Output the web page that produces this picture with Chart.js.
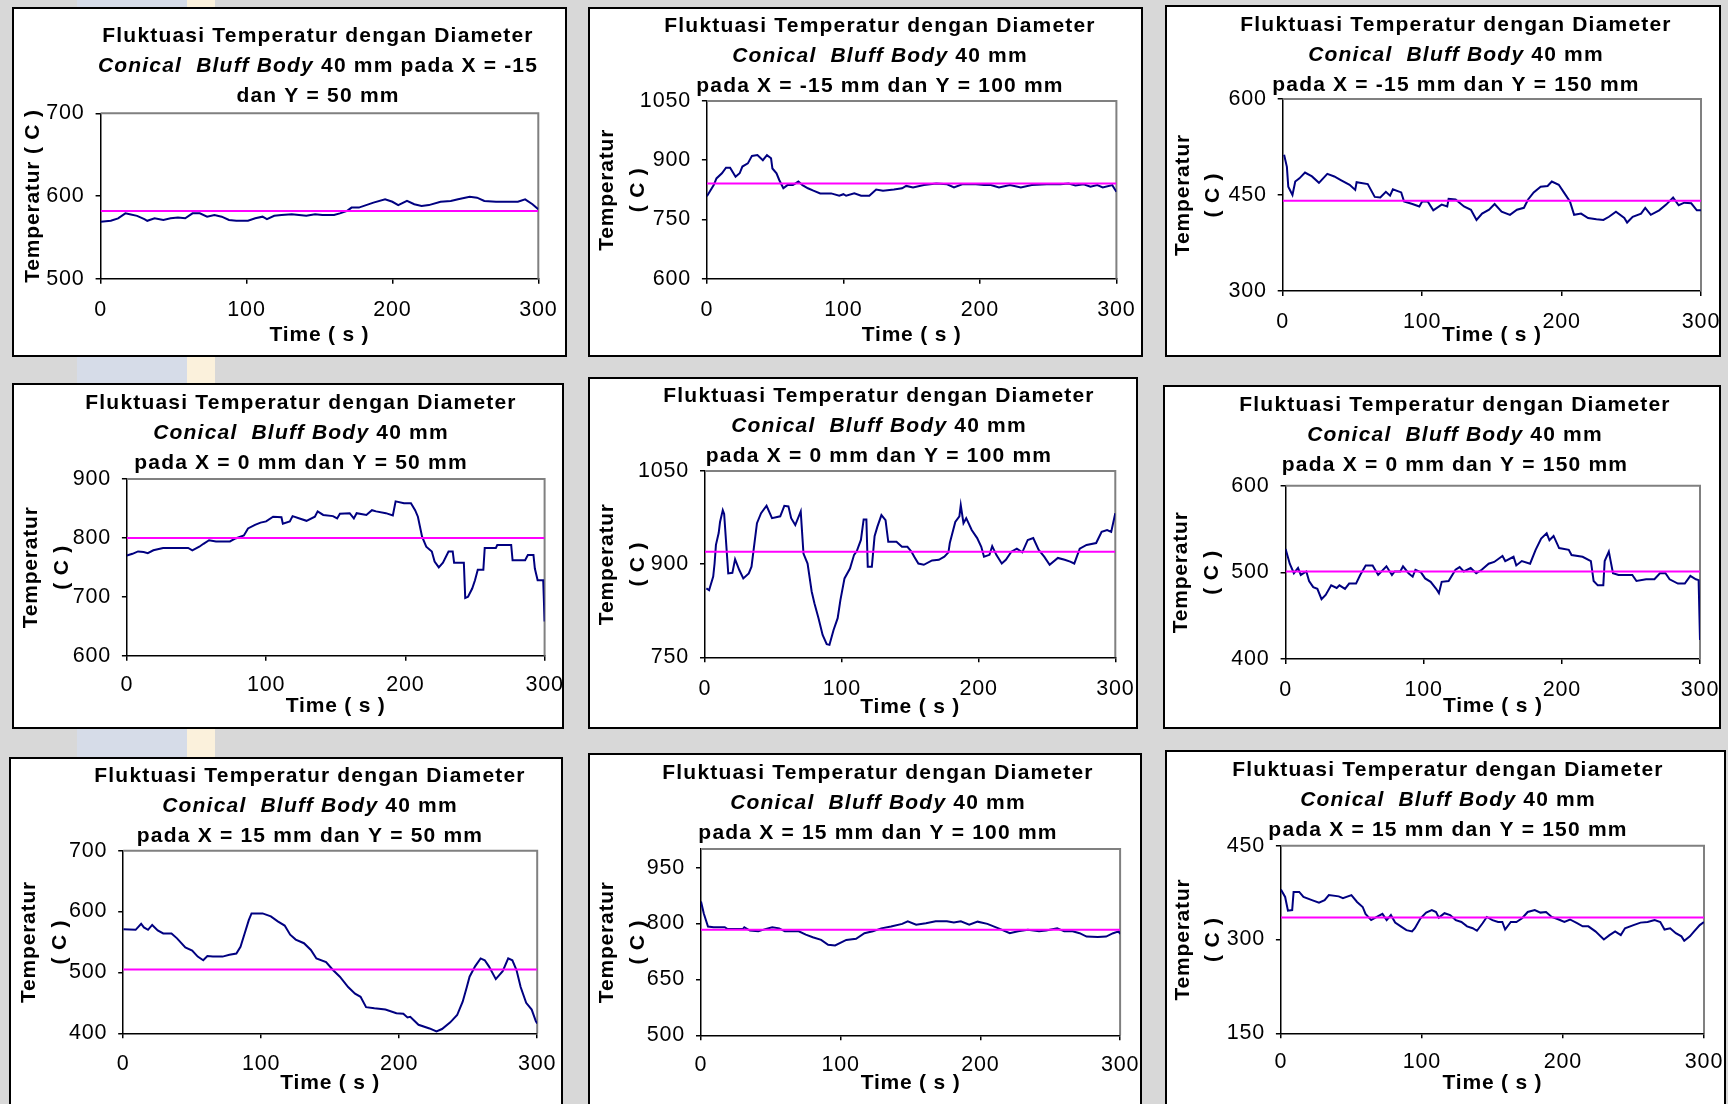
<!DOCTYPE html>
<html lang="id">
<head>
<meta charset="utf-8">
<title>Fluktuasi Temperatur Conical Bluff Body 40 mm</title>
<script src="https://cdn.jsdelivr.net/npm/chart.js@4.4.1/dist/chart.umd.min.js"></script>
<style>
  html, body { margin: 0; padding: 0; }
  body { width: 1728px; height: 1104px; overflow: hidden; position: relative; background: #d8d8d8; }
  .pita { position: absolute; top: 0; height: 1104px; }
  .kotak { position: absolute; box-sizing: border-box; background: #fff; border: 2px solid #000; }
  .kanvas { position: absolute; }
</style>
</head>
<body>
<div class="pita" style="left:77px;width:110px;background:#d6dce8"></div>
<div class="pita" style="left:187px;width:28px;background:#fbf1dc"></div>
<div id="grafik"></div>
<script>
// Tick sumbu waktu, sama untuk semua grafik
const tickWaktu = [0, 100, 200, 300];

// X = -15 mm, Y = 50 mm
const waktuA = [0, 7, 12, 17, 20, 25, 30, 32, 37, 43, 48, 53, 58, 63, 68, 73, 78, 83, 88, 93, 101, 106, 111, 114, 119, 124, 131, 136, 141, 147, 152, 160, 164, 169, 172, 177, 182, 187, 195, 200, 204, 210, 215, 220, 225, 233, 240, 245, 253, 258, 263, 271, 278, 286, 291, 296, 300];
const suhuA = [569, 570, 573, 579, 578, 576, 572, 570, 573, 571, 573, 574, 573, 579, 579, 575, 577, 575, 571, 570, 570, 573, 575, 572, 576, 577, 578, 577, 576, 578, 577, 577, 579, 582, 586, 586, 589, 592, 596, 593, 589, 594, 590, 588, 589, 593, 594, 596, 599, 598, 594, 593, 593, 593, 596, 590, 584];
const rataA = 582;
const tickA = [500, 600, 700];

// X = -15 mm, Y = 100 mm
const waktuB = [0, 2, 5, 7, 11, 14, 17, 21, 24, 26, 30, 33, 37, 41, 44, 47, 48, 51, 53, 56, 59, 63, 67, 70, 74, 78, 83, 91, 97, 100, 102, 108, 113, 119, 124, 129, 137, 143, 146, 151, 159, 168, 176, 181, 187, 195, 203, 208, 214, 222, 230, 238, 249, 259, 265, 270, 276, 281, 286, 290, 297, 300];
const suhuB = [809, 820, 837, 854, 867, 881, 881, 858, 867, 884, 892, 911, 913, 900, 913, 905, 879, 867, 850, 829, 837, 837, 846, 837, 829, 823, 816, 816, 810, 814, 810, 816, 810, 810, 826, 823, 826, 829, 835, 831, 837, 841, 839, 831, 839, 840, 837, 837, 831, 837, 831, 837, 839, 839, 841, 836, 839, 833, 837, 831, 837, 820];
const rataB = 841;
const tickB = [600, 750, 900, 1050];

// X = -15 mm, Y = 150 mm
const waktuC = [1, 3, 4, 7, 9, 12, 16, 21, 26, 32, 37, 42, 48, 52, 53, 61, 66, 70, 74, 77, 79, 85, 87, 93, 98, 100, 104, 108, 114, 118, 119, 124, 130, 135, 139, 143, 148, 152, 157, 163, 168, 173, 176, 180, 185, 190, 193, 198, 202, 206, 209, 214, 219, 225, 230, 234, 239, 245, 247, 251, 257, 260, 264, 270, 275, 280, 284, 288, 293, 297, 300];
const suhuC = [513, 494, 463, 450, 471, 476, 485, 479, 469, 483, 479, 473, 466, 458, 470, 467, 447, 446, 455, 449, 459, 454, 440, 436, 432, 440, 440, 426, 435, 432, 444, 443, 432, 427, 411, 421, 427, 436, 424, 419, 427, 430, 443, 454, 463, 464, 471, 466, 453, 440, 419, 421, 414, 412, 411, 416, 424, 414, 407, 416, 421, 430, 419, 426, 435, 446, 434, 438, 437, 426, 426];
const rataC = 441;
const tickC = [300, 450, 600];

// X = 0 mm, Y = 50 mm
const waktuD = [0, 4, 8, 12, 15, 19, 26, 34, 44, 47, 52, 55, 59, 64, 74, 78, 84, 87, 92, 96, 100, 105, 111, 112, 117, 119, 124, 129, 135, 137, 141, 148, 151, 153, 160, 163, 165, 172, 176, 179, 186, 191, 193, 199, 204, 207, 209, 212, 215, 219, 221, 224, 227, 231, 234, 235, 242, 243, 245, 248, 250, 252, 256, 257, 265, 266, 276, 277, 286, 288, 292, 293, 295, 299, 300];
const suhuD = [770, 773, 777, 776, 774, 779, 783, 783, 783, 779, 785, 790, 796, 794, 794, 799, 804, 816, 822, 826, 828, 836, 835, 824, 828, 837, 833, 829, 836, 845, 839, 837, 833, 841, 842, 833, 842, 839, 847, 845, 842, 838, 862, 859, 859, 847, 836, 802, 785, 777, 760, 750, 758, 777, 777, 758, 758, 698, 700, 714, 728, 746, 746, 783, 783, 788, 788, 762, 762, 771, 771, 748, 728, 728, 658];
const rataD = 800;
const tickD = [600, 700, 800, 900];

// X = 0 mm, Y = 100 mm
const waktuE = [1, 3, 6, 7, 8, 10, 11, 13, 14, 16, 17, 20, 22, 25, 28, 32, 34, 36, 38, 41, 45, 49, 55, 58, 61, 63, 66, 70, 72, 75, 78, 80, 83, 86, 89, 91, 94, 97, 99, 102, 106, 109, 111, 114, 116, 118, 119, 122, 124, 126, 129, 132, 134, 140, 144, 148, 151, 153, 156, 160, 166, 171, 175, 178, 179, 183, 186, 187, 189, 191, 195, 199, 202, 204, 208, 210, 213, 217, 220, 224, 228, 232, 236, 240, 244, 248, 252, 258, 263, 267, 270, 274, 279, 286, 290, 294, 297, 300];
const suhuE = [861, 858, 880, 901, 931, 950, 968, 987, 981, 917, 885, 886, 908, 891, 877, 885, 896, 931, 966, 982, 994, 974, 977, 994, 993, 974, 963, 985, 917, 901, 856, 837, 813, 786, 771, 770, 794, 813, 842, 877, 893, 915, 921, 939, 972, 972, 896, 896, 945, 960, 979, 971, 936, 936, 928, 928, 920, 912, 901, 899, 906, 907, 912, 919, 934, 968, 977, 995, 966, 974, 955, 942, 928, 912, 915, 929, 915, 901, 907, 920, 925, 919, 939, 942, 923, 912, 899, 910, 907, 904, 901, 925, 931, 934, 952, 955, 952, 982];
const rataE = 920;
const tickE = [750, 900, 1050];

// X = 0 mm, Y = 150 mm
const waktuF = [0, 3, 6, 9, 11, 15, 17, 20, 23, 26, 29, 33, 37, 39, 43, 46, 51, 54, 58, 63, 67, 73, 77, 79, 83, 85, 89, 92, 94, 98, 101, 105, 109, 111, 113, 118, 123, 126, 129, 134, 138, 142, 147, 151, 157, 159, 165, 167, 171, 177, 181, 185, 189, 191, 194, 198, 205, 207, 215, 221, 223, 226, 230, 231, 234, 237, 241, 251, 254, 261, 267, 271, 275, 278, 284, 289, 293, 297, 299, 300];
const suhuF = [527, 510, 499, 505, 497, 501, 490, 483, 481, 469, 474, 485, 482, 485, 481, 487, 487, 497, 508, 508, 497, 507, 497, 501, 501, 507, 499, 495, 503, 500, 493, 489, 481, 476, 489, 490, 503, 506, 501, 505, 499, 503, 510, 512, 519, 513, 518, 508, 513, 510, 526, 539, 545, 537, 542, 528, 526, 520, 518, 513, 490, 485, 485, 513, 524, 499, 497, 497, 490, 492, 492, 499, 499, 492, 487, 487, 496, 492, 491, 422];
const rataF = 501;
const tickF = [400, 500, 600];

// X = 15 mm, Y = 50 mm
const waktuG = [0, 9, 13, 15, 18, 21, 25, 29, 35, 39, 45, 50, 54, 58, 61, 65, 72, 77, 82, 85, 88, 91, 93, 101, 107, 112, 117, 121, 125, 131, 136, 140, 147, 152, 157, 163, 168, 172, 176, 182, 190, 198, 203, 206, 208, 214, 222, 227, 231, 237, 242, 246, 249, 251, 255, 259, 262, 265, 270, 275, 279, 282, 285, 288, 292, 296, 299, 300];
const suhuG = [571, 570, 580, 574, 570, 578, 569, 564, 564, 556, 541, 536, 526, 520, 527, 526, 526, 529, 531, 542, 564, 586, 597, 597, 592, 584, 577, 562, 554, 548, 537, 523, 517, 504, 493, 476, 465, 460, 443, 441, 439, 433, 432, 426, 427, 414, 408, 403, 407, 418, 430, 452, 476, 493, 510, 523, 520, 510, 489, 502, 523, 520, 504, 476, 450, 439, 420, 416];
const rataG = 505;
const tickG = [400, 500, 600, 700];

// X = 15 mm, Y = 100 mm
const waktuH = [0, 2, 5, 9, 17, 19, 30, 31, 35, 41, 46, 51, 56, 60, 70, 75, 80, 86, 91, 96, 104, 111, 117, 123, 129, 136, 144, 148, 154, 161, 168, 176, 181, 186, 192, 198, 205, 213, 221, 227, 234, 242, 247, 255, 260, 266, 271, 276, 284, 290, 295, 299, 300];
const suhuH = [859, 827, 792, 790, 790, 785, 785, 790, 781, 779, 785, 790, 787, 779, 779, 770, 763, 756, 743, 741, 756, 759, 774, 779, 787, 792, 799, 806, 797, 801, 806, 806, 803, 806, 797, 805, 799, 787, 774, 779, 783, 779, 781, 787, 779, 779, 774, 765, 764, 765, 774, 779, 772];
const rataH = 783;
const tickH = [500, 650, 800, 950];

// X = 15 mm, Y = 150 mm
const waktuI = [0, 3, 5, 8, 9, 13, 16, 22, 27, 31, 34, 41, 44, 50, 54, 58, 60, 64, 68, 72, 75, 78, 81, 85, 89, 93, 95, 99, 103, 107, 110, 112, 116, 120, 124, 128, 132, 136, 139, 143, 146, 150, 154, 157, 159, 163, 167, 171, 175, 180, 184, 188, 192, 197, 201, 205, 210, 214, 218, 223, 229, 233, 237, 241, 244, 250, 255, 260, 265, 269, 272, 276, 280, 284, 286, 290, 293, 297, 300];
const suhuI = [380, 368, 346, 347, 376, 376, 368, 363, 359, 363, 371, 369, 366, 371, 360, 352, 341, 331, 336, 341, 331, 339, 327, 321, 315, 313, 318, 334, 343, 347, 344, 335, 342, 339, 331, 328, 321, 318, 314, 326, 336, 331, 328, 328, 316, 328, 328, 334, 344, 347, 343, 344, 336, 332, 328, 332, 326, 321, 321, 313, 300, 307, 313, 307, 318, 323, 327, 328, 331, 328, 316, 318, 310, 305, 298, 305, 313, 323, 328];
const rataI = 335;
const tickI = [150, 300, 450];

// Teks judul
const judulAtas = 'Fluktuasi Temperatur dengan Diameter';
const judulMiring = 'Conical  Bluff Body';

const panel = [
  { waktu: waktuA, suhu: suhuA, rata: rataA, tick: tickA, skala: [500, 700],  baris2: ' 40 mm pada X = -15', baris3: 'dan Y = 50 mm', labelY: 'Temperatur ( C )' },
  { waktu: waktuB, suhu: suhuB, rata: rataB, tick: tickB, skala: [600, 1050], baris2: ' 40 mm', baris3: 'pada X = -15 mm dan Y = 100 mm', labelY: ['Temperatur', '( C )'] },
  { waktu: waktuC, suhu: suhuC, rata: rataC, tick: tickC, skala: [300, 600],  baris2: ' 40 mm', baris3: 'pada X = -15 mm dan Y = 150 mm', labelY: ['Temperatur', '( C )'] },
  { waktu: waktuD, suhu: suhuD, rata: rataD, tick: tickD, skala: [600, 900],  baris2: ' 40 mm', baris3: 'pada X = 0 mm dan Y = 50 mm', labelY: ['Temperatur', '( C )'] },
  { waktu: waktuE, suhu: suhuE, rata: rataE, tick: tickE, skala: [750, 1050], baris2: ' 40 mm', baris3: 'pada X = 0 mm dan Y = 100 mm', labelY: ['Temperatur', '( C )'] },
  { waktu: waktuF, suhu: suhuF, rata: rataF, tick: tickF, skala: [400, 600],  baris2: ' 40 mm', baris3: 'pada X = 0 mm dan Y = 150 mm', labelY: ['Temperatur', '( C )'] },
  { waktu: waktuG, suhu: suhuG, rata: rataG, tick: tickG, skala: [400, 700],  baris2: ' 40 mm', baris3: 'pada X = 15 mm dan Y = 50 mm', labelY: ['Temperatur', '( C )'] },
  { waktu: waktuH, suhu: suhuH, rata: rataH, tick: tickH, skala: [500, 1000], baris2: ' 40 mm', baris3: 'pada X = 15 mm dan Y = 100 mm', labelY: ['Temperatur', '( C )'] },
  { waktu: waktuI, suhu: suhuI, rata: rataI, tick: tickI, skala: [150, 450],  baris2: ' 40 mm', baris3: 'pada X = 15 mm dan Y = 150 mm', labelY: ['Temperatur', '( C )'] }
];

// Tata letak tiap kotak (piksel halaman): kotak, area plot, judul, label sumbu
const tataLetak = [
  { kotak: [12, 7, 567, 357],      plot: [100.6, 113.3, 538.3, 278.7], judul: [318, 36.7],  yJ: 33.3,   xJ: 335,    xPad: 13.7 },
  { kotak: [588, 7, 1143, 357],    plot: [706.9, 101, 1116.4, 278.7],  judul: [880, 26.7],  yJ: 607.7,  xJ: 335,    xPad: 13.7 },
  { kotak: [1165, 5, 1721, 357],   plot: [1282.7, 99, 1701, 291],      judul: [1456, 25],   yJ: 1183.2, xJ: 335,    xPad: 13.1 },
  { kotak: [12, 383, 564, 729],    plot: [126.9, 479, 544.6, 655.7],   judul: [301, 403],   yJ: 31.4,   xJ: 706.7,  xPad: 11.7 },
  { kotak: [588, 377, 1138, 729],  plot: [705, 471, 1115.3, 657.3],    judul: [879, 396.7], yJ: 607.7,  xJ: 707.3,  xPad: 13.4 },
  { kotak: [1163, 385, 1721, 729], plot: [1285.6, 485.7, 1700, 659],   judul: [1455, 405],  yJ: 1181.3, xJ: 706.7,  xPad: 13.4 },
  { kotak: [9, 757, 563, 1112],    plot: [123.2, 850.7, 537.2, 1033.3], judul: [310, 776.7], yJ: 29.6,  xJ: 1083.3, xPad: 12.4 },
  { kotak: [588, 753, 1142, 1112], plot: [701, 849, 1120.1, 1035.3],   judul: [878, 773.3], yJ: 607.7,  xJ: 1083.3, xPad: 12.1 },
  { kotak: [1165, 750, 1726, 1112], plot: [1280.9, 845.7, 1704, 1033.3], judul: [1448, 770], yJ: 1183.2, xJ: 1083.3, xPad: 10.8 }
];

const FONT = '"Liberation Sans", Arial, Helvetica, sans-serif';
Chart.defaults.font.family = FONT;
Chart.defaults.font.size = 21;
Chart.defaults.color = '#000';

// Sedikit jarak antar huruf seperti tampilan Excel
const jarakHuruf = {
  id: 'jarakHuruf',
  beforeDraw(chart) { chart.ctx.letterSpacing = '0.8px'; }
};

// Garis abu-abu di sisi atas dan kanan area plot
const bingkaiPlot = {
  id: 'bingkaiPlot',
  beforeDatasetsDraw(chart) {
    const { ctx, chartArea: a } = chart;
    ctx.save();
    ctx.strokeStyle = '#808080';
    ctx.lineWidth = 2;
    ctx.beginPath();
    ctx.moveTo(a.left, a.top);
    ctx.lineTo(a.right, a.top);
    ctx.lineTo(a.right, a.bottom);
    ctx.stroke();
    ctx.restore();
  }
};

// Judul tiga baris, sebagian miring
function pluginJudul(baris, x, y) {
  return {
    id: 'judulKaya',
    afterDraw(chart) {
      const ctx = chart.ctx;
      ctx.save();
      ctx.fillStyle = '#000';
      ctx.textBaseline = 'middle';
      ctx.textAlign = 'left';
      ctx.letterSpacing = '1.2px';
      baris.forEach((segmen, i) => {
        const fonts = segmen.map(s => (s[1] ? 'italic ' : '') + 'bold 21px ' + FONT);
        let lebar = 0;
        segmen.forEach((s, k) => { ctx.font = fonts[k]; lebar += ctx.measureText(s[0]).width; });
        let px = x - lebar / 2;
        segmen.forEach((s, k) => {
          ctx.font = fonts[k];
          ctx.fillText(s[0], px, y + i * 30);
          px += ctx.measureText(s[0]).width;
        });
      });
      ctx.restore();
    }
  };
}

const wadah = document.getElementById('grafik');

// Kotak putih dulu, kanvas di atasnya
tataLetak.forEach(L => {
  const [kl, kt, kr, kb] = L.kotak;
  const d = document.createElement('div');
  d.className = 'kotak';
  Object.assign(d.style, { left: kl + 'px', top: kt + 'px', width: (kr - kl) + 'px', height: (kb - kt) + 'px' });
  wadah.appendChild(d);
});

panel.forEach((p, i) => {
  const L = tataLetak[i];
  const [kl, kt, kr, kb] = L.kotak;
  const [pl, pt, pr, pb] = L.plot;
  const cx = kl - 40, cy = kt, cw = kr - kl + 80, ch = Math.min(kb, 1104) - kt;

  const kanvas = document.createElement('canvas');
  kanvas.className = 'kanvas';
  kanvas.width = cw;
  kanvas.height = ch;
  Object.assign(kanvas.style, { left: cx + 'px', top: cy + 'px', width: cw + 'px', height: ch + 'px' });
  wadah.appendChild(kanvas);

  const lhX = 21 * 1.2, lhY = 21 * 1.45;
  const baris = [
    [[judulAtas, false]],
    [[judulMiring, true], [p.baris2, false]],
    [[p.baris3, false]]
  ];

  new Chart(kanvas, {
    type: 'line',
    data: {
      datasets: [
        { data: [{ x: 0, y: p.rata }, { x: 300, y: p.rata }], borderColor: '#ff00ff', borderWidth: 2, order: 0 },
        { data: p.waktu.map((t, k) => ({ x: t, y: p.suhu[k] })), borderColor: '#000080', borderWidth: 2, order: 1 }
      ]
    },
    options: {
      responsive: false,
      animation: false,
      events: [],
      devicePixelRatio: 1,
      layout: { padding: { left: 0, top: pt - cy, right: cx + cw - pr, bottom: 0 } },
      elements: { point: { radius: 0 }, line: { tension: 0 } },
      plugins: { legend: { display: false }, tooltip: { enabled: false } },
      scales: {
        x: {
          type: 'linear', min: 0, max: 300,
          afterBuildTicks: s => { s.ticks = tickWaktu.map(v => ({ value: v })); },
          afterFit: s => { s.height = cy + ch - pb; },
          grid: { drawOnChartArea: false, color: '#000', lineWidth: 1.5, tickLength: 5 },
          border: { color: '#000', width: 1.5 },
          ticks: { padding: L.xPad, maxRotation: 0, autoSkip: false, font: { size: 21.5 }, callback: v => String(v) },
          title: {
            display: true, text: 'Time ( s )',
            font: { size: 21, weight: 'bold', lineHeight: 1.2 },
            padding: { top: 0, bottom: cy + ch - L.xJ - lhX / 2 }
          }
        },
        y: {
          min: p.skala[0], max: p.skala[1],
          afterBuildTicks: s => { s.ticks = p.tick.map(v => ({ value: v })); },
          afterFit: s => { s.width = pl - cx; },
          grid: { drawOnChartArea: false, color: '#000', lineWidth: 1.5, tickLength: 5 },
          border: { color: '#000', width: 1.5 },
          ticks: { padding: 11, autoSkip: false, font: { size: 21.5 }, callback: v => String(v) },
          title: {
            display: true, text: p.labelY,
            font: { size: 21, weight: 'bold', lineHeight: 1.45 },
            padding: { top: L.yJ - cx - lhY / 2, bottom: 0 }
          }
        }
      }
    },
    plugins: [jarakHuruf, bingkaiPlot, pluginJudul(baris, L.judul[0] - cx, L.judul[1] - cy)]
  });
});
</script>
</body>
</html>
